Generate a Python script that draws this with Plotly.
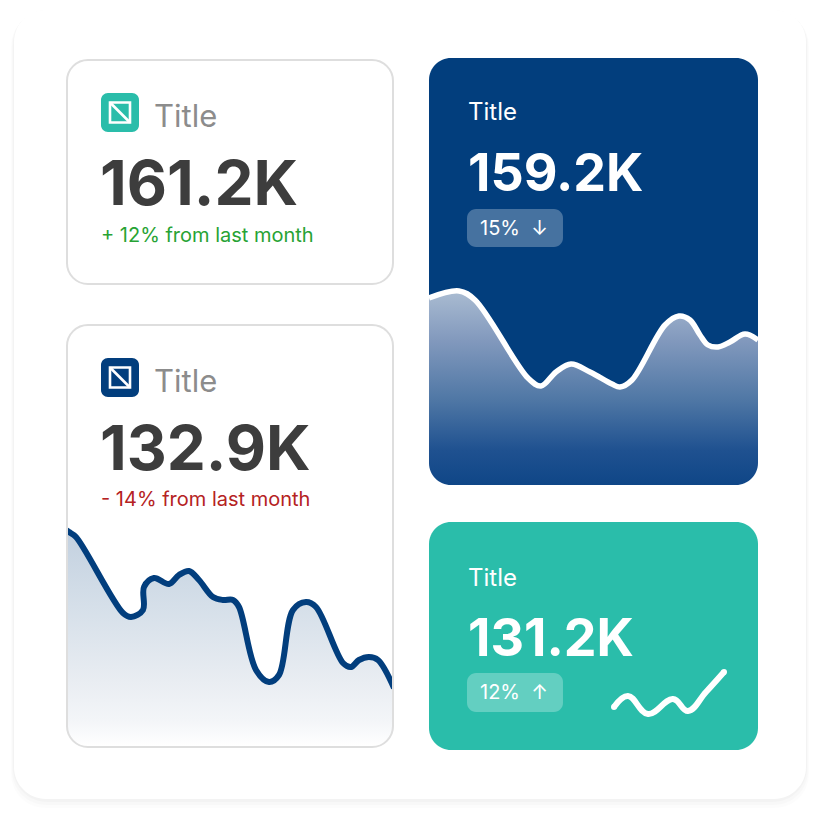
import plotly.graph_objects as go

# ---------------- data ----------------
kpi_titles = ["Title", "Title", "Title", "Title"]
kpi_values = ["161.2K", "132.9K", "159.2K", "131.2K"]
kpi_changes = ["+ 12% from last month", "- 14% from last month", "15%  ↓", "12%  ↑"]

# card 2 (white, declining series)
c2_x = [0, 3, 10, 57, 65, 77, 78, 88, 103, 113, 123, 133, 147, 157, 167, 173,
        190, 203, 213, 227, 240, 250, 277, 285, 293, 303, 312, 328]
c2_y = [216, 214, 209, 133, 129, 136, 159, 168, 162, 171, 175, 166, 149, 146, 146, 139,
        76, 64, 71, 136, 144, 139, 83, 79, 86, 89, 86, 58]

# card 3 (navy, area series)
c3_x = [0, 30, 46, 99, 112, 127, 142, 161, 183, 191, 203, 236, 250, 261, 271, 279, 289, 301, 316, 329]
c3_y = [187, 194, 185, 107, 99, 113, 121, 113, 101, 98, 105, 160, 169, 165, 150, 140, 138, 143, 151, 145]

# card 4 (teal, small sparkline)
c4_x = [14, 28, 48, 73, 88, 106, 124]
c4_y = [23, 34, 16, 31, 19, 38, 58]

# ---------------- helpers ----------------
W = H = 824


def X(px):
    return px / W


def Y(py):
    return 1 - py / H


def pt(x, y):
    return f"{X(x):.5f},{Y(y):.5f}"


def rrect(x0, y0, x1, y1, r):
    k = 0.5523 * r
    return (f"M{pt(x0 + r, y0)} L{pt(x1 - r, y0)} "
            f"C{pt(x1 - r + k, y0)} {pt(x1, y0 + r - k)} {pt(x1, y0 + r)} "
            f"L{pt(x1, y1 - r)} "
            f"C{pt(x1, y1 - r + k)} {pt(x1 - r + k, y1)} {pt(x1 - r, y1)} "
            f"L{pt(x0 + r, y1)} "
            f"C{pt(x0 + r - k, y1)} {pt(x0, y1 - r + k)} {pt(x0, y1 - r)} "
            f"L{pt(x0, y0 + r)} "
            f"C{pt(x0, y0 + r - k)} {pt(x0 + r - k, y0)} {pt(x0 + r, y0)} Z")


def masks(x0, x1, y1, r):
    k = 0.5523 * r
    bl = (f"M{pt(x0 - 2, y1 - r)} L{pt(x0, y1 - r)} "
          f"C{pt(x0, y1 - r + k)} {pt(x0 + r - k, y1)} {pt(x0 + r, y1)} "
          f"L{pt(x0 + r, y1 + 2)} L{pt(x0 - 2, y1 + 2)} Z")
    br = (f"M{pt(x1 + 2, y1 - r)} L{pt(x1, y1 - r)} "
          f"C{pt(x1, y1 - r + k)} {pt(x1 - r + k, y1)} {pt(x1 - r, y1)} "
          f"L{pt(x1 - r, y1 + 2)} L{pt(x1 + 2, y1 + 2)} Z")
    return [bl, br]


FONT = "Inter, Roboto, 'Open Sans', sans-serif"
NAVY = "#023e7d"
TEAL = "#2abdaa"

shapes = []
annotations = []

# outer frame with soft shadow (stronger at the bottom)
for (x0, y0, x1, y1, col) in [(11, 12, 809, 808, "rgba(0,0,0,0.012)"),
                              (12, 11, 808, 805, "rgba(0,0,0,0.015)"),
                              (13, 10, 807, 802, "rgba(0,0,0,0.02)")]:
    shapes.append(dict(type="path", xref="paper", yref="paper", path=rrect(x0, y0, x1, y1, 34),
                       fillcolor=col, line=dict(width=0), layer="below"))
shapes.append(dict(type="path", xref="paper", yref="paper", path=rrect(14, 10, 806, 799, 32),
                   fillcolor="#ffffff", line=dict(width=0), layer="below"))

# cards
CARD1 = (66, 59, 394, 285)
CARD2 = (66, 324, 394, 748)
CARD3 = (429, 58, 758, 485)
CARD4 = (429, 522, 758, 750)
R = 22

for c in (CARD1, CARD2):
    shapes.append(dict(type="path", xref="paper", yref="paper", path=rrect(*c, R),
                       fillcolor="#ffffff", line=dict(width=0), layer="below"))
shapes.append(dict(type="path", xref="paper", yref="paper", path=rrect(*CARD3, R),
                   fillcolor=NAVY, line=dict(width=0), layer="below"))
shapes.append(dict(type="path", xref="paper", yref="paper", path=rrect(*CARD4, R),
                   fillcolor=TEAL, line=dict(width=0), layer="below"))

# corner masks above the area fills, then borders
for c in (CARD2, CARD3):
    for p in masks(c[0], c[2], c[3], R):
        shapes.append(dict(type="path", xref="paper", yref="paper", path=p,
                           fillcolor="#ffffff", line=dict(width=0), layer="above"))
for c in (CARD1, CARD2):
    shapes.append(dict(type="path", xref="paper", yref="paper", path=rrect(c[0] + 1, c[1] + 1, c[2] - 1, c[3] - 1, R - 1),
                       fillcolor="rgba(0,0,0,0)", line=dict(width=2, color="#dedede"), layer="above"))


# icons
def icon(x0, y0, color):
    shapes.append(dict(type="path", xref="paper", yref="paper", path=rrect(x0, y0, x0 + 38, y0 + 39, 7),
                       fillcolor=color, line=dict(width=0), layer="above"))
    shapes.append(dict(type="rect", xref="paper", yref="paper",
                       x0=X(x0 + 9), x1=X(x0 + 29), y0=Y(y0 + 9.5), y1=Y(y0 + 29.5),
                       fillcolor="rgba(0,0,0,0)", line=dict(width=2.6, color="#ffffff"), layer="above"))
    shapes.append(dict(type="line", xref="paper", yref="paper",
                       x0=X(x0 + 9), x1=X(x0 + 29), y0=Y(y0 + 9.5), y1=Y(y0 + 29.5),
                       line=dict(width=2.6, color="#ffffff"), layer="above"))


icon(101, 93, TEAL)
icon(101, 358, NAVY)

# badges
for (bx0, by0, bx1, by1) in [(467, 209, 563, 247), (467, 673, 563, 712)]:
    shapes.append(dict(type="path", xref="paper", yref="paper", path=rrect(bx0, by0, bx1, by1, 9),
                       fillcolor="rgba(255,255,255,0.27)", line=dict(width=0), layer="above"))


def text(x, y, s, size, color, weight=400):
    annotations.append(dict(x=X(x), y=Y(y), xref="paper", yref="paper", text=s, showarrow=False,
                            xanchor="left", yanchor="middle",
                            font=dict(family=FONT, size=size, color=color, weight=weight)))


# card 1
text(152, 115, kpi_titles[0], 31, "#8c8c8c")
text(98, 182, kpi_values[0], 62, "#3d3d3d", 700)
text(99, 235, kpi_changes[0], 20, "#27a334")
# card 2
text(152, 380, kpi_titles[1], 31, "#8c8c8c")
text(98, 447, kpi_values[1], 62, "#3d3d3d", 700)
text(99, 499, kpi_changes[1], 20, "#b52222")
# card 3
text(466, 112, kpi_titles[2], 24, "#ffffff")
text(466, 173, kpi_values[2], 52, "#ffffff", 700)
text(478, 228, kpi_changes[2], 20, "#ffffff")
# card 4
text(466, 577, kpi_titles[3], 24, "#ffffff")
text(466, 637, kpi_values[3], 52, "#ffffff", 700)
text(478, 692, kpi_changes[3], 20, "#ffffff")

# ---------------- traces ----------------
fig = go.Figure()

fig.add_trace(go.Scatter(
    x=c2_x, y=c2_y, mode="lines", xaxis="x", yaxis="y",
    line=dict(color=NAVY, width=6, shape="spline", smoothing=1.0),
    fill="tozeroy",
    fillgradient=dict(type="vertical", start=0, stop=216,
                      colorscale=[[0, "#ffffff"], [0.12, "#f3f5f8"], [0.3, "#e9edf2"],
                                  [0.65, "#d5dfe9"], [1, "#c2d0df"]]),
    hoverinfo="skip", showlegend=False))

fig.add_trace(go.Scatter(
    x=c3_x, y=c3_y, mode="lines", xaxis="x2", yaxis="y2",
    line=dict(color="#ffffff", width=5.5, shape="spline", smoothing=1.0),
    fill="tozeroy",
    fillgradient=dict(type="vertical", start=0, stop=193,
                      colorscale=[[0, "#0f4687"], [0.18, "#1f5190"], [0.44, "#4f77a5"],
                                  [0.75, "#8299bd"], [1, "#a9bbd1"]]),
    hoverinfo="skip", showlegend=False))

fig.add_trace(go.Scatter(
    x=c4_x, y=c4_y, mode="lines", xaxis="x3", yaxis="y3",
    line=dict(color="#ffffff", width=6, shape="spline", smoothing=1.2),
    hoverinfo="skip", showlegend=False))
fig.add_trace(go.Scatter(
    x=[c4_x[0], c4_x[-1]], y=[c4_y[0], c4_y[-1]], mode="markers", xaxis="x3", yaxis="y3",
    marker=dict(color="#ffffff", size=6), hoverinfo="skip", showlegend=False, cliponaxis=False))

ax = dict(visible=False, fixedrange=True, showgrid=False, zeroline=False)
fig.update_layout(
    width=W, height=H, margin=dict(l=0, r=0, t=0, b=0),
    paper_bgcolor="#ffffff", plot_bgcolor="rgba(0,0,0,0)",
    xaxis=dict(ax, domain=[X(66), X(394)], range=[0, 328]),
    yaxis=dict(ax, domain=[Y(748), Y(520)], range=[-2, 226]),
    xaxis2=dict(ax, domain=[X(429), X(758)], range=[0, 329]),
    yaxis2=dict(ax, domain=[Y(485), Y(280)], range=[0, 205]),
    xaxis3=dict(ax, domain=[X(600), X(740)], range=[0, 140]),
    yaxis3=dict(ax, domain=[Y(730), Y(650)], range=[0, 80]),
    shapes=shapes, annotations=annotations, showlegend=False,
)

fig.write_html("out.html", config={"displayModeBar": False},
               post_script="document.body.style.margin='0';document.body.style.overflow='hidden';")
